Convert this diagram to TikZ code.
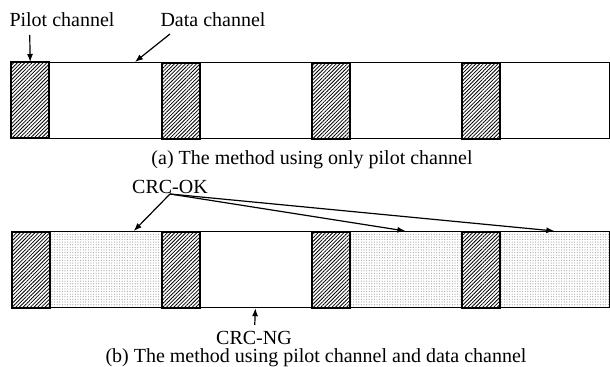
\documentclass[tikz,border=0pt]{standalone}
\usepackage{fontspec}
\setmainfont{Liberation Serif}
\usetikzlibrary{arrows.meta, patterns.meta, positioning, calc}

\tikzset{
  chanlbl/.style={font=\fontsize{10}{12}\selectfont, inner sep=0pt},
  pilotblk/.style={draw, line width=1pt, anchor=north west, inner sep=0pt,
    minimum width=18.75pt, minimum height=38pt,
    pattern={Lines[angle=45, distance=1.3pt, line width=0.4pt]}},
  datablk/.style={draw, line width=0.6pt, anchor=north west, inner sep=0pt,
    minimum height=38pt},
  okblk/.style={pattern={Dots[distance=1.3pt, radius=0.3pt]},
    pattern color=gray!70},
  plainblk/.style={},
  ptr/.style={-{Latex[length=4pt, width=3pt]}, line width=0.6pt}
}

\begin{document}
\begin{tikzpicture}[x=0.5pt, y=-0.5pt]
\useasboundingbox (0,0) rectangle (610,367);

%% TOP ROW – only pilot channel
\foreach \k/\w in {0/56.25pt, 1/56.25pt, 2/56.25pt, 3/55.25pt} {
  \node[datablk, minimum width=\w] (da\k) at (48.5+150*\k, 62) {};
  \node[pilotblk] (pa\k) at (11+150*\k, 62) {};
}
\node[chanlbl] (lblpilot) at (62, 20) {Pilot channel};
\node[chanlbl] (lbldata) at (213, 20) {Data channel};
\coordinate (pilottail) at (29.75, 35);
\coordinate (datatail) at (170, 34);
\draw[ptr] (pilottail) -- (pa0.north);
\draw[ptr] (datatail) -- ($(da0.north west)!0.76!(da0.north east)$);
\node[chanlbl] (capa) at (312, 160) {(a) The method using only pilot channel};

%% BOTTOM ROW – pilot channel and data channel
\foreach \k/\w/\s in {0/56.25pt/okblk, 1/56.25pt/plainblk,
                      2/56.25pt/okblk, 3/55.25pt/okblk} {
  \node[datablk, \s, minimum width=\w] (db\k) at (48.5+150*\k, 231) {};
  \node[pilotblk] (pb\k) at (11+150*\k, 231) {};
}
\node[chanlbl] (lblok) at (170, 187) {CRC-OK};
\coordinate (oktail) at (170, 194);
\draw[ptr] (oktail) -- ($(db0.north west)!0.75!(db0.north east)$);
\draw[ptr] (oktail) -- (db2.north);
\draw[ptr] (oktail) -- (db3.north);
\node[chanlbl] (lblng) at (254, 338) {CRC-NG};
\coordinate (ngtail) at (254.75, 325);
\draw[ptr] (ngtail) -- (db1.south);
\node[chanlbl] (capb) at (316, 358)
  {(b) The method using pilot channel and data channel};
\end{tikzpicture}
\end{document}
